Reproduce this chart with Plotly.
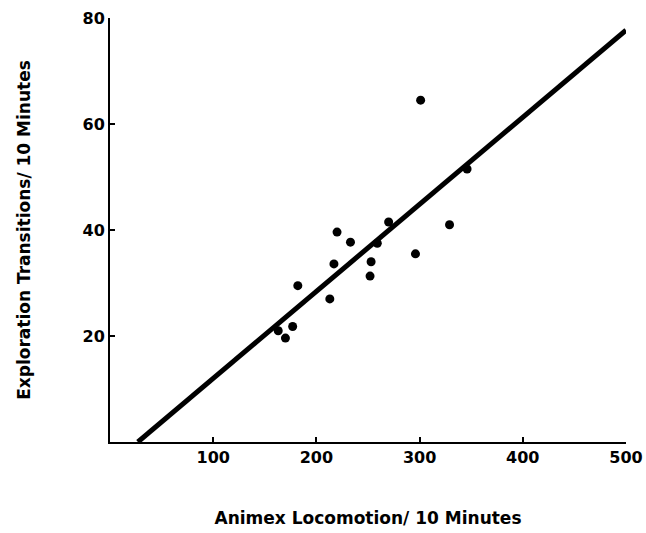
import plotly.graph_objects as go

# Data
locomotion = [163, 170, 177, 182, 213, 217, 220, 233, 252, 253, 259, 270, 296, 301, 329, 346]
exploration = [21.0, 19.6, 21.8, 29.5, 27.0, 33.6, 39.6, 37.7, 31.3, 34.0, 37.5, 41.5, 35.5, 64.5, 41.0, 51.5]

# Regression line endpoints
fit_x = [27, 500]
fit_y = [0, 77.7]

x_ticks = [100, 200, 300, 400, 500]
y_ticks = [20, 40, 60, 80]

font_family = "DejaVu Sans"

fig = go.Figure()
fig.add_trace(go.Scatter(
    x=fit_x, y=fit_y, mode="lines",
    line=dict(color="black", width=5),
    showlegend=False, hoverinfo="skip",
))
fig.add_trace(go.Scatter(
    x=locomotion, y=exploration, mode="markers",
    marker=dict(color="black", size=9),
    showlegend=False,
))

fig.update_layout(
    width=646, height=533,
    margin=dict(l=110, r=20, t=18, b=91),
    paper_bgcolor="white", plot_bgcolor="white",
    font=dict(family=font_family, color="black"),
    xaxis=dict(
        range=[0, 500], tickvals=x_ticks, ticktext=[str(v) for v in x_ticks],
        showline=True, linecolor="black", linewidth=2, automargin=False,
        ticks="inside", ticklen=5, tickwidth=2, tickcolor="black",
        showgrid=False, zeroline=False,
        tickfont=dict(size=16, family=font_family, weight="bold"),
        title=dict(text="<b>Animex Locomotion/ 10 Minutes</b>",
                   font=dict(size=17, family=font_family), standoff=46),
    ),
    yaxis=dict(
        range=[0, 80], tickvals=y_ticks, ticktext=[str(v) for v in y_ticks],
        showline=True, linecolor="black", linewidth=2, automargin=False,
        ticks="inside", ticklen=5, tickwidth=2, tickcolor="black",
        showgrid=False, zeroline=False,
        tickfont=dict(size=16, family=font_family, weight="bold"),
        title=dict(text="<b>Exploration Transitions/ 10 Minutes</b>",
                   font=dict(size=17, family=font_family), standoff=48),
    ),
)

fig.write_html(
    "out.html",
    config={"displayModeBar": False},
    post_script="document.body.style.margin='0';document.body.style.overflow='hidden';",
)
